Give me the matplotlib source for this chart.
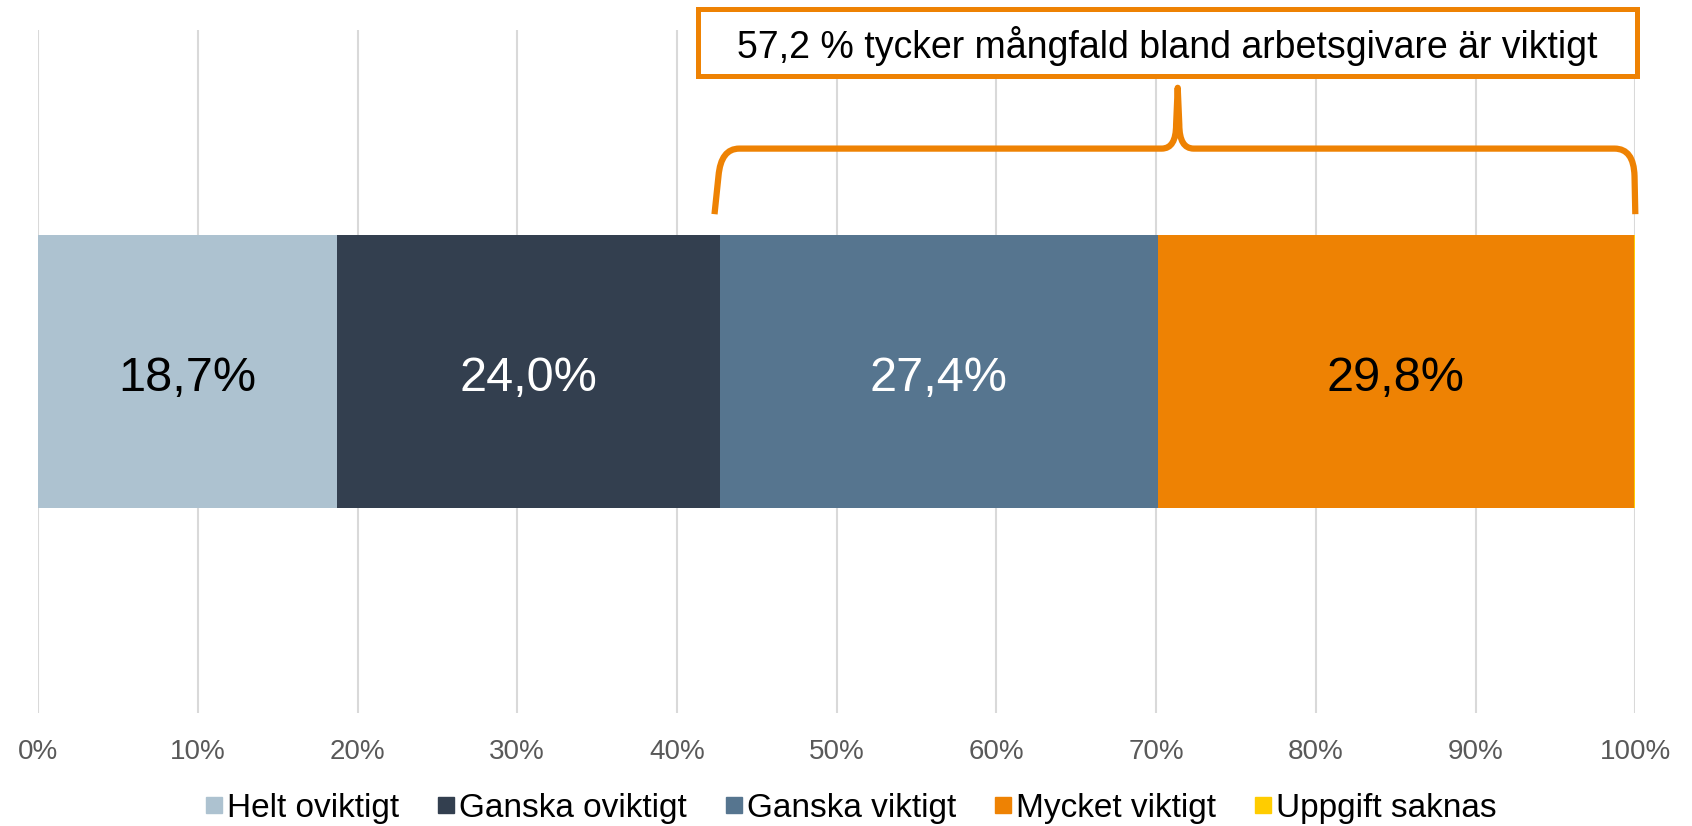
import matplotlib
matplotlib.use("Agg")
import matplotlib.pyplot as plt
import numpy as np
from matplotlib.lines import Line2D
from matplotlib.patches import PathPatch, Rectangle
from matplotlib.path import Path

plt.rcParams["font.family"] = ["Liberation Sans", "DejaVu Sans"]

categories = ["Helt oviktigt", "Ganska oviktigt", "Ganska viktigt", "Mycket viktigt", "Uppgift saknas"]
values = [18.7, 24.0, 27.4, 29.8, 0.1]
labels = ["18,7%", "24,0%", "27,4%", "29,8%", ""]
colors = ["#ADC2D0", "#333F4F", "#56758F", "#EE8203", "#FFCC00"]
label_colors = ["black", "white", "white", "black", "black"]
ticks = np.arange(0, 101, 10)
tick_labels = [f"{t}%" for t in ticks]
callout = "57,2 % tycker mångfald bland arbetsgivare är viktigt"
orange = "#EE8203"

fig = plt.figure(figsize=(16.92, 8.26), dpi=100)
ax = fig.add_axes([0.0225, 0.137, 0.944, 0.827])

left = 0.0
for val, lab, col, lc in zip(values, labels, colors, label_colors):
    ax.barh(0.5, val, left=left, height=0.4, color=col, zorder=2)
    if lab:
        ax.text(left + val / 2, 0.489, lab, ha="center", va="center",
                fontsize=35, color=lc, zorder=3)
    left += val

ax.set_xlim(0, 100)
ax.set_ylim(0, 1)
ax.set_xticks(ticks)
ax.set_xticklabels(tick_labels)
ax.set_yticks([])
ax.tick_params(axis="x", length=0, pad=19, labelsize=20, labelcolor="#595959")
ax.grid(axis="x", color="#D9D9D9", linewidth=1.5, zorder=0)
ax.set_axisbelow(True)
for s in ax.spines.values():
    s.set_visible(False)

# brace over the "viktigt" segments
x0 = sum(values[:2])
x1 = 100.0
xm = (x0 + x1) / 2
y_end, y_h, y_peak = 0.73, 0.826, 0.915
verts = [
    (x0 - 0.35, y_end), (x0 - 0.1, y_h - 0.04),
    (x0 + 0.05, y_h), (x0 + 1.2, y_h),
    (xm - 1.0, y_h),
    (xm - 0.1, y_h), (xm - 0.1, y_h + 0.035),
    (xm, y_peak),
    (xm + 0.1, y_h + 0.035),
    (xm + 0.1, y_h), (xm + 1.0, y_h),
    (x1 - 1.3, y_h),
    (x1 - 0.1, y_h), (x1 - 0.05, y_h - 0.04),
    (x1, y_end),
]
codes = [Path.MOVETO, Path.LINETO,
         Path.CURVE3, Path.CURVE3,
         Path.LINETO,
         Path.CURVE3, Path.CURVE3,
         Path.LINETO,
         Path.LINETO,
         Path.CURVE3, Path.CURVE3,
         Path.LINETO,
         Path.CURVE3, Path.CURVE3,
         Path.LINETO]
brace = PathPatch(Path(verts, codes), facecolor="none", edgecolor=orange,
                  linewidth=4.5, joinstyle="round", capstyle="butt",
                  clip_on=False, zorder=5)
ax.add_patch(brace)

box = Rectangle((41.3, 0.933), 58.8, 0.098, facecolor="white", edgecolor=orange,
                linewidth=3.6, clip_on=False, zorder=5)
ax.add_patch(box)
ax.text(41.3 + 58.8 / 2, 0.933 + 0.043, callout, ha="center", va="center",
        fontsize=27, color="black", zorder=6, clip_on=False)

handles = [Line2D([], [], marker="s", linestyle="", markersize=11, color=c) for c in colors]
fig.legend(handles, categories, loc="center", bbox_to_anchor=(0.503, 0.021), ncol=5,
           frameon=False, fontsize=24, handlelength=0.5, handletextpad=0.15,
           columnspacing=1.15, borderpad=0)

fig.savefig("out.png", dpi=100)
